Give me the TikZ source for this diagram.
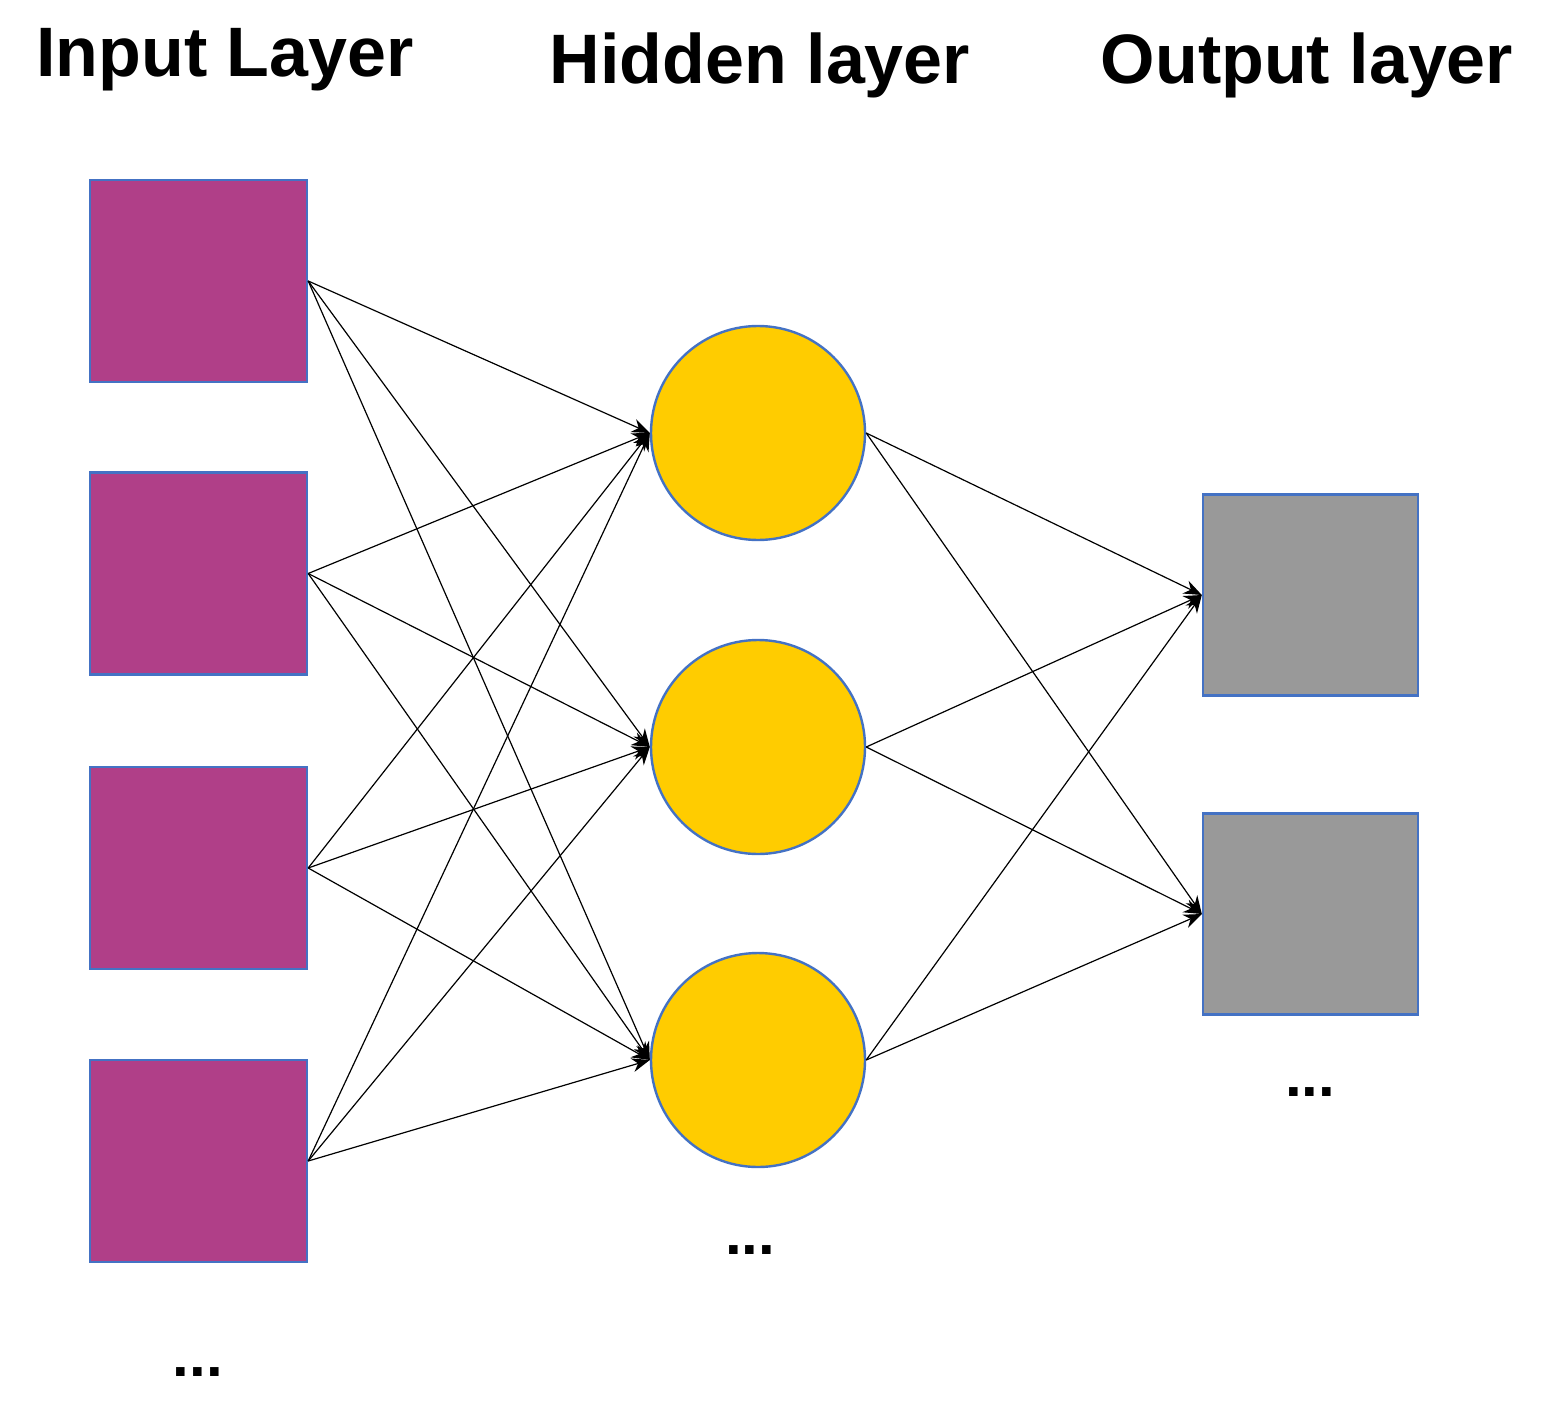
\documentclass[tikz,border=0pt]{standalone}
\usepackage{fontspec}
\setmainfont{Liberation Sans}
\usetikzlibrary{arrows.meta}
\definecolor{inp}{HTML}{B03F88}
\definecolor{hid}{HTML}{FFCC00}
\definecolor{outc}{HTML}{999999}
\definecolor{bord}{HTML}{4472C4}
\begin{document}
\begin{tikzpicture}[x=0.5pt,y=-0.5pt,
  insq/.style={draw=bord,line width=1.2pt,fill=inp,minimum width=108.5pt,minimum height=101pt,inner sep=0},
  outsq/.style={draw=bord,line width=1.2pt,fill=outc,minimum width=107.5pt,minimum height=100.5pt,inner sep=0},
  hn/.style={circle,draw=bord,line width=1.2pt,fill=hid,minimum size=107pt,inner sep=0},
  ttl/.style={font=\bfseries\fontsize{35}{40}\selectfont},
  dots/.style={font=\bfseries\fontsize{30}{30}\selectfont},
  edge/.style={line width=0.6pt,-{Stealth[length=9pt,width=7pt]}},
  edgep/.style={line width=0.6pt}]
\useasboundingbox (0,0) rectangle (1545,1423);
\node[ttl] (t1) at (225,60) {Input Layer};
\node[ttl] (t2) at (760,65) {Hidden layer};
\node[ttl] (t3) at (1307,65) {Output layer};
\node[insq] (i1) at (198.5,281) {};
\node[insq] (i2) at (198.5,573.5) {};
\node[insq] (i3) at (198.5,868) {};
\node[insq] (i4) at (198.5,1161) {};
\node[hn] (h1) at (758,433) {};
\node[hn] (h2) at (758,747) {};
\node[hn] (h3) at (758,1060) {};
\node[outsq] (o1) at (1310.5,595) {};
\node[outsq] (o2) at (1310.5,914) {};
\node[dots] (d1) at (198,1372) {...};
\node[dots] (d2) at (750,1250) {...};
\node[dots] (d3) at (1310,1092) {...};
\foreach \i in {1,...,4}{\foreach \h in {1,2,3}{\draw[edge] (i\i.east) -- (h\h.west);}}
\foreach \h in {1,2,3}{\foreach \o in {1,2}{\draw[edge] (h\h.east) -- (o\o.west);}}
\end{tikzpicture}
\end{document}
